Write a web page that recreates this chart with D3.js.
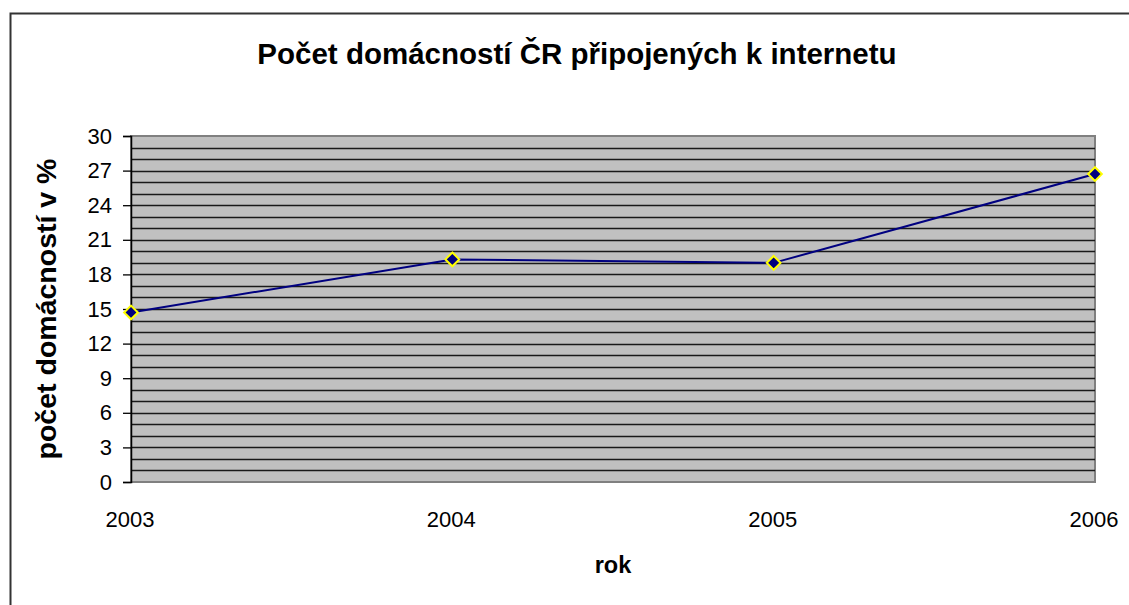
<!DOCTYPE html>
<html>
<head>
<meta charset="utf-8">
<script src="https://cdn.jsdelivr.net/npm/d3@7"></script>
<style>
  body { margin: 0; background: #fff; }
  svg { display: block; font-family: "Liberation Sans", Arial, sans-serif; }
</style>
</head>
<body>
<div id="chart"></div>
<script>
// data
var years = ["2003", "2004", "2005", "2006"];
var households = [14.7, 19.3, 19.0, 26.7];
var yTicks = [0, 3, 6, 9, 12, 15, 18, 21, 24, 27, 30];

var W = 1129, H = 605;
var plot = { left: 131, top: 136, right: 1095, bottom: 482 };

var svg = d3.select("#chart").append("svg")
    .attr("width", W)
    .attr("height", H);

// outer chart frame (runs off the right and bottom edge)
svg.append("rect")
    .attr("x", 10.5).attr("y", 13.5)
    .attr("width", 1140).attr("height", 620)
    .attr("fill", "#fff")
    .attr("stroke", "#333")
    .attr("stroke-width", 2);

var x = d3.scalePoint()
    .domain(years)
    .range([plot.left, plot.right])
    .padding(0);

var y = d3.scaleLinear()
    .domain([0, 30])
    .range([plot.bottom, plot.top]);

// plot background
svg.append("rect")
    .attr("x", plot.left).attr("y", plot.top)
    .attr("width", plot.right - plot.left)
    .attr("height", plot.bottom - plot.top)
    .attr("fill", "#c0c0c0")
    .attr("stroke", "#808080")
    .attr("stroke-width", 2);

// gridlines every 1 unit
svg.append("g")
    .selectAll("line")
    .data(d3.range(1, 30))
    .join("line")
    .attr("x1", plot.left).attr("x2", plot.right)
    .attr("y1", d => Math.round(y(d)) + 0.5)
    .attr("y2", d => Math.round(y(d)) + 0.5)
    .attr("stroke", "#1a1a1a")
    .attr("stroke-width", 1.3);

// y axis
var yAxis = d3.axisLeft(y)
    .tickValues(yTicks)
    .tickSize(8)
    .tickPadding(11);

var yg = svg.append("g")
    .attr("transform", "translate(" + plot.left + ",0)")
    .call(yAxis);
yg.attr("font-size", null).attr("font-family", null);
yg.select(".domain").attr("stroke", "#000").attr("stroke-width", 1.5);
yg.selectAll(".tick line").attr("stroke", "#000").attr("stroke-width", 1.3);
yg.selectAll(".tick text")
    .style("font-size", "22px")
    .attr("fill", "#000");

// x labels
svg.append("g")
    .selectAll("text")
    .data(years)
    .join("text")
    .attr("x", d => x(d) - 1)
    .attr("y", 527)
    .attr("text-anchor", "middle")
    .style("font-size", "22px")
    .text(d => d);

// line
var line = d3.line()
    .x((d, i) => x(years[i]))
    .y(d => y(d));

svg.append("path")
    .datum(households)
    .attr("d", line)
    .attr("fill", "none")
    .attr("stroke", "#000080")
    .attr("stroke-width", 2);

// diamond markers
svg.append("g")
    .selectAll("path")
    .data(households)
    .join("path")
    .attr("d", d3.symbol().type(d3.symbolDiamond2).size(120))
    .attr("transform", (d, i) => "translate(" + x(years[i]) + "," + y(d) + ")")
    .attr("fill", "#000080")
    .attr("stroke", "#ffff00")
    .attr("stroke-width", 2);

// titles
svg.append("text")
    .attr("x", 577).attr("y", 64)
    .attr("text-anchor", "middle")
    .style("font-size", "29.5px")
    .attr("font-weight", "bold")
    .text("Počet domácností ČR připojených k internetu");

svg.append("text")
    .attr("transform", "translate(56,309) rotate(-90)")
    .attr("text-anchor", "middle")
    .style("font-size", "28.5px")
    .attr("font-weight", "bold")
    .text("počet domácností v %");

svg.append("text")
    .attr("x", 613).attr("y", 573)
    .attr("text-anchor", "middle")
    .style("font-size", "23.5px")
    .attr("font-weight", "bold")
    .text("rok");
</script>
</body>
</html>
